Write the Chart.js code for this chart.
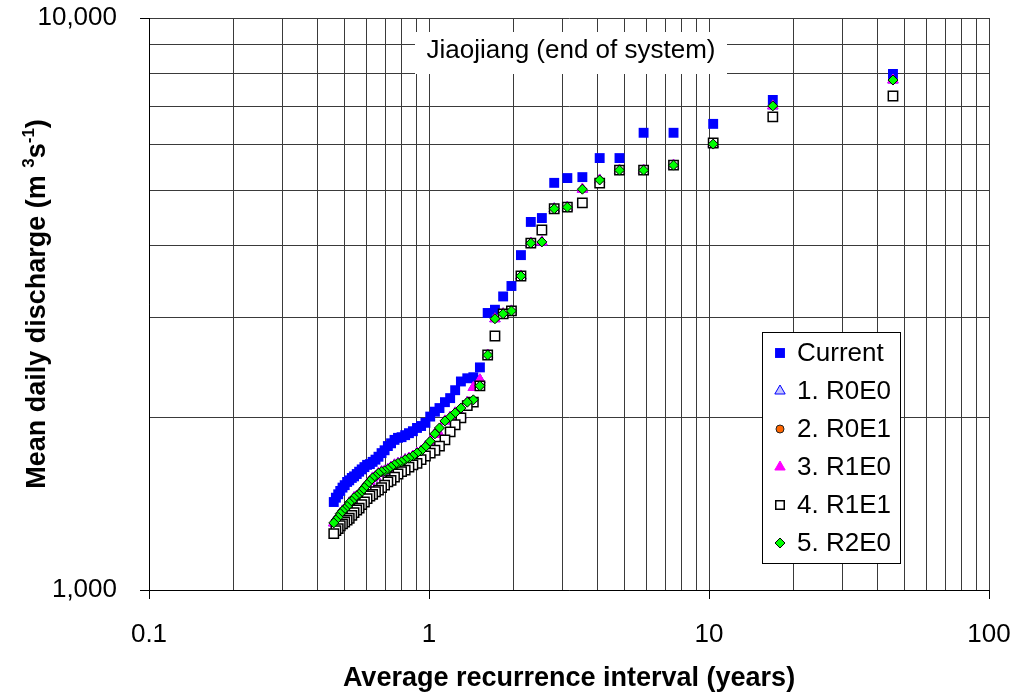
<!DOCTYPE html>
<html>
<head>
<meta charset="utf-8">
<script src="https://cdn.jsdelivr.net/npm/chart.js@4.4.1/dist/chart.umd.min.js"></script>
<style>
  html, body { margin: 0; padding: 0; background: #fff; }
  #wrap { width: 1015px; height: 696px; position: relative; }
</style>
</head>
<body>
<div id="wrap"><canvas id="chart"></canvas></div>
<script>
// plotting positions (years), largest event first
const recurrenceYears = [45.4, 16.9, 10.35, 7.47, 5.84, 4.79, 4.07, 3.53, 3.12, 2.80, 2.53, 2.31, 2.13, 1.97, 1.84, 1.72, 1.62, 1.52, 1.44, 1.37,
  1.30, 1.24, 1.19, 1.14, 1.09, 1.05, 1.01, 0.971, 0.937, 0.906, 0.876, 0.848, 0.822, 0.798, 0.775, 0.753, 0.732, 0.713, 0.694, 0.677,
  0.660, 0.644, 0.629, 0.615, 0.601, 0.588, 0.575, 0.563, 0.552, 0.540, 0.530, 0.519, 0.510, 0.500, 0.491, 0.482, 0.474, 0.465, 0.457];

const current = [7983, 7190, 6530, 6300, 6300, 5690, 5690, 5270, 5250, 5150, 4470, 4400, 3850, 3400, 3260, 3090, 3050, 2450, 2355, 2345,
  2315, 2235, 2165, 2130, 2080, 2050, 2010, 1960, 1935, 1920, 1895, 1880, 1865, 1850, 1845, 1830, 1805, 1785, 1755, 1735,
  1710, 1690, 1675, 1660, 1655, 1640, 1625, 1610, 1595, 1580, 1570, 1555, 1545, 1525, 1510, 1490, 1470, 1450, 1425];

const r0e0 = [7790, 7020, 6020, 5530, 5420, 5420, 5210, 5020, 4670, 4640, 4060, 4040, 3540, 3075, 3040, 2980, 2575, 2330, 2260, 2130,
  2020, 2040, 2005, 1975, 1870, 1875, 1820, 1780, 1750, 1735, 1715, 1700, 1690, 1675, 1665, 1655, 1640, 1625, 1615, 1610,
  1600, 1580, 1570, 1550, 1530, 1510, 1490, 1470, 1460, 1450, 1430, 1420, 1400, 1385, 1375, 1360, 1340, 1325, 1310];

const r0e1 = [7305, 6715, 6045, 5530, 5420, 5420, 5145, 4750, 4670, 4640, 4260, 4040, 3540, 3075, 3040, 2780, 2575, 2275, 2130, 2100,
  2000, 1945, 1890, 1830, 1785, 1755, 1735, 1715, 1690, 1665, 1655, 1640, 1620, 1610, 1595, 1575, 1555, 1545, 1525, 1510,
  1495, 1485, 1470, 1460, 1445, 1425, 1410, 1390, 1380, 1365, 1350, 1335, 1325, 1315, 1305, 1295, 1280, 1270, 1255];

const r1e0 = [7790, 7020, 6020, 5530, 5420, 5420, 5210, 5020, 4670, 4640, 4060, 4040, 3540, 3075, 3040, 2980, 2575, 2330, 2260, 2130,
  2020, 2040, 2005, 1975, 1870, 1875, 1820, 1780, 1750, 1735, 1715, 1700, 1690, 1675, 1665, 1655, 1640, 1625, 1615, 1610,
  1600, 1580, 1570, 1550, 1530, 1510, 1490, 1470, 1460, 1450, 1430, 1420, 1400, 1385, 1375, 1360, 1340, 1325, 1310];

const r1e1 = [7305, 6715, 6045, 5530, 5420, 5420, 5145, 4750, 4670, 4640, 4260, 4040, 3540, 3075, 3040, 2780, 2575, 2275, 2130, 2100,
  2000, 1945, 1890, 1830, 1785, 1755, 1735, 1715, 1690, 1665, 1655, 1640, 1620, 1610, 1595, 1575, 1555, 1545, 1525, 1510,
  1495, 1485, 1470, 1460, 1445, 1425, 1410, 1390, 1380, 1365, 1350, 1335, 1325, 1315, 1305, 1295, 1280, 1270, 1255];

const r2e0 = [7790, 7020, 6020, 5530, 5420, 5420, 5210, 5020, 4670, 4640, 4060, 4040, 3540, 3075, 3040, 2980, 2575, 2275, 2150, 2130,
  2080, 2040, 2005, 1975, 1920, 1875, 1820, 1780, 1750, 1735, 1715, 1700, 1690, 1675, 1665, 1655, 1640, 1625, 1615, 1610,
  1600, 1580, 1570, 1550, 1530, 1510, 1490, 1470, 1460, 1450, 1430, 1420, 1400, 1385, 1375, 1360, 1340, 1325, 1310];

const seriesNames = ['Current', '1. R0E0', '2. R0E1', '3. R1E0', '4. R1E1', '5. R2E0'];

const xGridValues = [0.1, 0.2, 0.3, 0.4, 0.5, 0.6, 0.7, 0.8, 0.9, 1, 2, 3, 4, 5, 6, 7, 8, 9, 10, 20, 30, 40, 50, 60, 70, 80, 90, 100];
const xLabelValues = [0.1, 1, 10, 100];
const xTickLabels = ['0.1', '1', '10', '100'];
const yGridValues = [1000, 2000, 3000, 4000, 5000, 6000, 7000, 8000, 9000, 10000];
const yLabelValues = [1000, 10000];
const yTickLabels = ['1,000', '10,000'];

const FONT = '"Liberation Sans", Arial, Helvetica, sans-serif';

function points(values) {
  return recurrenceYears.map((x, i) => ({ x: x, y: values[i] }));
}

// marker styles; lower order is drawn on top
const styles = [
  { shape: 'rect', r: 7, fill: '#0000ff', stroke: '#0000ff', bw: 0, order: 6 },
  { shape: 'triangle', r: 6, fill: '#c4c4ff', stroke: '#0000ff', bw: 1, order: 5 },
  { shape: 'circle', r: 4, fill: '#ff6600', stroke: '#222222', bw: 1, order: 4 },
  { shape: 'triangle', r: 6, fill: '#ff00ff', stroke: '#ff00ff', bw: 1, order: 3 },
  { shape: 'rect', r: 6.6, fill: '#ffffff', stroke: '#000000', bw: 1.5, order: 2 },
  { shape: 'rectRot', r: 5, fill: '#00ff00', stroke: '#000000', bw: 1, order: 1 }
];
const seriesValues = [current, r0e0, r0e1, r1e0, r1e1, r2e0];

const datasets = seriesValues.map((vals, i) => ({
  label: seriesNames[i],
  data: points(vals),
  order: styles[i].order,
  pointStyle: styles[i].shape,
  pointRadius: styles[i].r,
  pointHoverRadius: styles[i].r,
  pointBackgroundColor: styles[i].fill,
  pointBorderColor: styles[i].stroke,
  pointBorderWidth: styles[i].bw,
  showLine: false
}));

function drawMarker(c, st, x, y) {
  c.save();
  c.fillStyle = st.fill;
  c.strokeStyle = st.stroke;
  c.lineWidth = st.bw;
  c.beginPath();
  const r = st.r;
  if (st.shape === 'rect') {
    const s = r * Math.SQRT1_2;
    c.rect(x - s, y - s, 2 * s, 2 * s);
  } else if (st.shape === 'circle') {
    c.arc(x, y, r, 0, Math.PI * 2);
  } else if (st.shape === 'triangle') {
    c.moveTo(x, y - r);
    c.lineTo(x + r * 0.866, y + r * 0.5);
    c.lineTo(x - r * 0.866, y + r * 0.5);
    c.closePath();
  } else {
    c.moveTo(x - r, y); c.lineTo(x, y - r); c.lineTo(x + r, y); c.lineTo(x, y + r);
    c.closePath();
  }
  c.fill();
  if (st.bw > 0) c.stroke();
  c.restore();
}

// keep the plot area where the reference has it
function noScalePadding(s) {
  s.paddingTop = 0; s.paddingBottom = 0; s.paddingLeft = 0; s.paddingRight = 0;
}

const decorations = {
  id: 'decorations',
  beforeDatasetsDraw(chart) {
    const c = chart.ctx;
    // title box over the grid
    c.save();
    c.fillStyle = '#ffffff';
    c.fillRect(415, 32, 312, 42);
    c.fillStyle = '#000';
    c.font = '26px ' + FONT;
    c.textAlign = 'center';
    c.textBaseline = 'alphabetic';
    c.fillText('Jiaojiang (end of system)', 571, 58);
    c.restore();
  },
  afterDraw(chart) {
    const c = chart.ctx;
    const area = chart.chartArea;
    c.save();
    c.fillStyle = '#000';
    // x axis title
    c.font = 'bold 27px ' + FONT;
    c.textAlign = 'center';
    c.textBaseline = 'alphabetic';
    c.fillText('Average recurrence interval (years)', (area.left + area.right) / 2, 686);

    // y axis title with superscripts
    const parts = [
      ['Mean daily discharge (m ', false], ['3', true], ['s', false], ['-1', true], [')', false]
    ];
    const big = 'bold 27px ' + FONT, small = 'bold 17px ' + FONT;
    let total = 0;
    parts.forEach(p => { c.font = p[1] ? small : big; total += c.measureText(p[0]).width; });
    c.translate(35, (area.top + area.bottom) / 2);
    c.rotate(-Math.PI / 2);
    c.textAlign = 'left';
    let u = -total / 2;
    parts.forEach(p => {
      c.font = p[1] ? small : big;
      c.fillText(p[0], u, p[1] ? -1 : 10);
      u += c.measureText(p[0]).width;
    });
    c.restore();

    // legend inside the plot
    c.save();
    c.fillStyle = '#ffffff';
    c.fillRect(762.5, 332.5, 138, 231);
    c.strokeStyle = '#000';
    c.lineWidth = 1;
    c.strokeRect(762.5, 332.5, 138, 231);
    c.font = '26px ' + FONT;
    c.textAlign = 'left';
    c.textBaseline = 'middle';
    seriesNames.forEach((name, i) => {
      const y = 353 + i * 38;
      const st = Object.assign({}, styles[i]);
      if (st.shape === 'rect') st.r = i === 0 ? 7 : 6;
      drawMarker(c, st, 780, y);
      c.fillStyle = '#000';
      c.fillText(name, 797, y + 1);
    });
    c.restore();
  }
};

new Chart(document.getElementById('chart'), {
  type: 'scatter',
  data: { datasets: datasets },
  options: {
    responsive: true,
    maintainAspectRatio: false,
    animation: false,
    layout: { padding: { left: 0, right: 26, top: 18, bottom: 0 } },
    plugins: {
      legend: { display: false },
      tooltip: { enabled: false },
      title: { display: false }
    },
    scales: {
      x: {
        type: 'logarithmic',
        min: 0.1,
        max: 100,
        afterBuildTicks: s => { s.ticks = xGridValues.map(v => ({ value: v })); },
        afterFit: s => { s.height = 106; noScalePadding(s); },
        ticks: {
          autoSkip: false,
          maxRotation: 0,
          padding: 20,
          color: '#000',
          font: { family: FONT, size: 26 },
          callback: v => {
            const k = xLabelValues.indexOf(v);
            return k >= 0 ? xTickLabels[k] : '';
          }
        },
        grid: {
          color: '#3a3a3a',
          lineWidth: 1,
          tickLength: 9,
          tickColor: ctx => (ctx.tick && xLabelValues.indexOf(ctx.tick.value) >= 0) ? '#000' : 'rgba(0,0,0,0)'
        },
        border: { color: '#000', width: 1 }
      },
      y: {
        type: 'logarithmic',
        min: 1000,
        max: 10000,
        afterBuildTicks: s => { s.ticks = yGridValues.map(v => ({ value: v })); },
        afterFit: s => { s.width = 149; noScalePadding(s); },
        ticks: {
          autoSkip: false,
          padding: 23,
          color: '#000',
          font: { family: FONT, size: 26 },
          callback: v => {
            const k = yLabelValues.indexOf(v);
            return k >= 0 ? yTickLabels[k] : '';
          }
        },
        grid: {
          color: '#3a3a3a',
          lineWidth: 1,
          tickLength: 9,
          tickColor: ctx => (ctx.tick && yLabelValues.indexOf(ctx.tick.value) >= 0) ? '#000' : 'rgba(0,0,0,0)'
        },
        border: { color: '#000', width: 1 }
      }
    }
  },
  plugins: [decorations]
});
</script>
</body>
</html>
